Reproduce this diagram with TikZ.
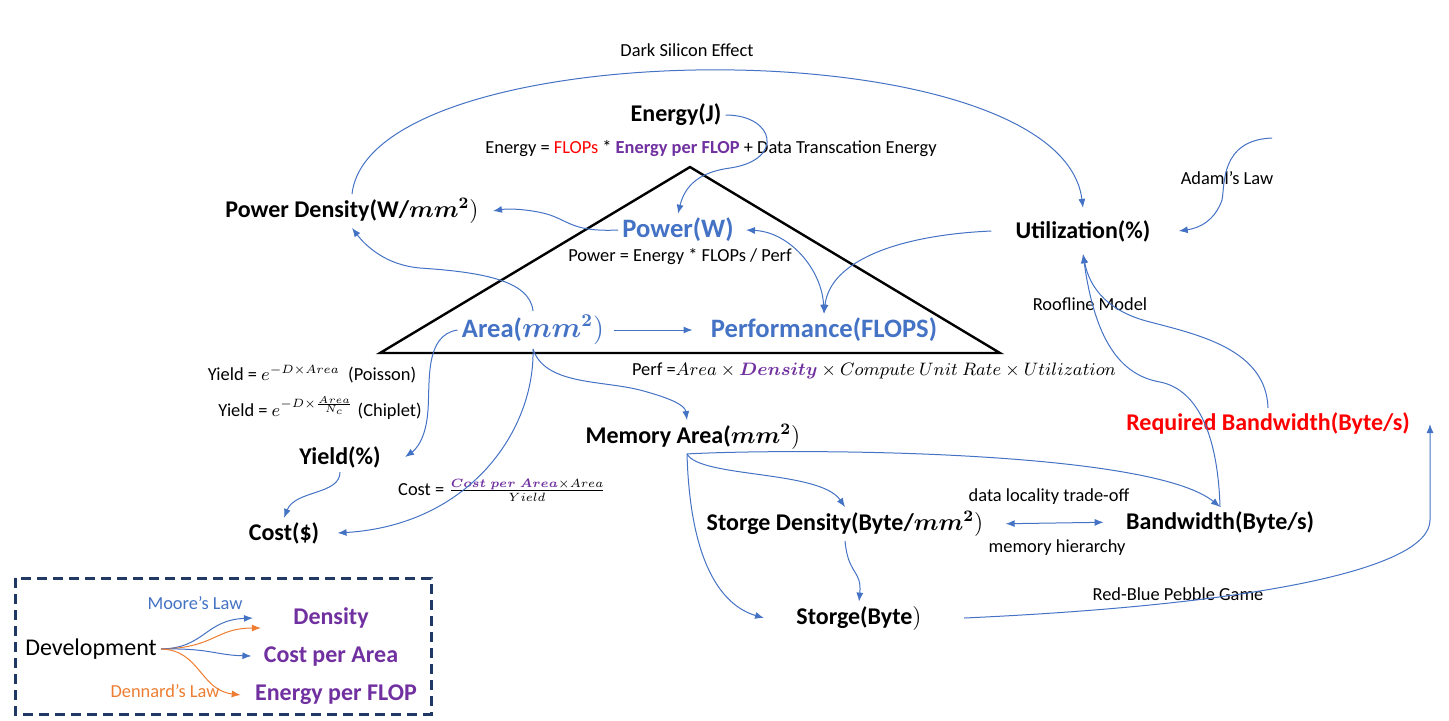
\documentclass[tikz,border=0pt]{standalone}
\usepackage{amsmath,bm}
\usepackage{fontspec}
\setmainfont{Carlito}
\usepackage{xcolor}
\usetikzlibrary{arrows.meta}
\definecolor{offblue}{HTML}{4472C4}
\definecolor{offpurple}{HTML}{7030A0}
\definecolor{offorange}{HTML}{ED7D31}
\definecolor{navy}{HTML}{203864}

\begin{document}
\begin{tikzpicture}[x=0.5pt, y=-0.5pt, >={Latex[length=4.5pt,width=3.5pt]},
	every node/.style={inner sep=2pt},
	small/.style={font=\fontsize{9.2}{11}\selectfont, inner sep=0.5pt},
	var/.style={font=\fontsize{12}{14}\selectfont\bfseries},
	key/.style={font=\fontsize{13.3}{16}\selectfont\bfseries, text=offblue},
	law/.style={font=\fontsize{12}{14}\selectfont\bfseries, text=offpurple},
	link/.style={->, offblue, line width=0.5pt}]
	\useasboundingbox (0,0) rectangle (1449,720);
	% Triangle
	\draw[line width=1.2pt] (380,353) -- (690,167) -- (1000,353) -- cycle;
	% Nodes
	\node[small] (dse) at (687,50) {Dark Silicon Effect};
	\node[var] (energy) at (676,115) {Energy(J)};
	\node[small] (efml) at (711,149) {Energy = \textcolor{red}{FLOPs} * \textcolor{offpurple}{\bfseries Energy per FLOP} + Data Transcation Energy};
	\node[key] (power) at (678,230) {Power(W)};
	\node[small] (pfml) at (680,257) {Power = Energy * FLOPs / Perf};
	\node[var] (pd) at (352,211) {Power Density(W/$\bm{mm^2})$};
	\node[key] (area) at (533,330) {Area($\bm{mm^2})$};
	\node[key] (perf) at (824,330) {Performance(FLOPS)};
	\node[small] (perffml) at (874,371) {Perf =$Area\times\textcolor{offpurple}{\bm{Density}}\times Compute\ Unit\ Rate\times Utilization$};
	\node[small] (yfml1) at (312,374) {Yield = $e^{-D\times Area}$\ \ (Poisson)};
	\node[small] (yfml2) at (320,408) {Yield = $e^{-D\times\frac{Area}{N_c}}$ (Chiplet)};
	\node[var] (yield) at (340,457) {Yield(\%)};
	\node[var] (cost) at (284,533) {Cost(\$)};
	\node[small] (cfml) at (502,490) {Cost = $\frac{\textcolor{offpurple}{\bm{Cost\ per\ Area}}\times Area}{Yield}$};
	\node[var] (mem) at (693,437) {Memory Area($\bm{mm^2})$};
	\node[var] (util) at (1083,231) {Utilization(\%)};
	\node[small] (amdahl) at (1227,178) {Adaml's Law};
	\node[small] (roof) at (1090,304) {Roofline Model};
	\node[var, text=red] (reqbw) at (1268,423) {Required Bandwidth(Byte/s)};
	\node[var] (sd) at (845,524) {Storge Density(Byte/$\bm{mm^2})$};
	\node[var] (bw) at (1220,522) {Bandwidth(Byte/s)};
	\node[small] (loc) at (1049,497) {data locality trade-off};
	\node[small] (hier) at (1057,548) {memory hierarchy};
	\node[var] (store) at (859,618) {Storge(Byte$)$};
	\node[small] (pebble) at (1178,594) {Red-Blue Pebble Game};
	\coordinate (amstart) at (1272,138);
	\coordinate (bwtip) at (1430,424);
	% Edges
	\draw[link] (pd.north) .. controls (370,30) and (1060,25) .. ([yshift=4pt]util.north);
	\draw[link] (energy.east) .. controls (775,115) and (785,160) .. (730,168) .. controls (700,172) and (685,185) .. (power.north);
	\draw[link] (power.west) .. controls (575,232) and (570,222) .. (550,215) .. controls (535,210) and (510,208) .. ([xshift=5pt]pd.east);
	\draw[link] (area.north) .. controls (530,280) and (480,272) .. (420,268) .. controls (385,265) and (365,245) .. (pd.south);
	\draw[link] ([xshift=-10pt]util.west) .. controls (900,235) and (830,260) .. (perf.north);
	\draw[link, <->] ([xshift=4pt]power.east) .. controls (790,232) and (822,270) .. (perf.north);
	\draw[link, shorten <=3pt, shorten >=7pt] (area.east) -- (perf.west);
	\draw[link] (area.west) .. controls (425,335) and (430,380) .. (428,410) .. controls (426,440) and (415,450) .. ([xshift=10pt]yield.east);
	\draw[link] (area.south) .. controls (535,430) and (470,525) .. ([xshift=7pt]cost.east);
	\draw[link] (area.south) .. controls (545,385) and (600,380) .. (640,390) .. controls (670,398) and (685,405) .. ([xshift=-3pt]mem.north);
	\draw[link] (yield.south) .. controls (340,495) and (295,490) .. (cost.north);
	\draw[link] ([xshift=-3pt]mem.south) .. controls (700,478) and (820,470) .. (sd.north);
	\draw[link] ([xshift=-3pt]mem.south) .. controls (690,560) and (720,605) .. ([xshift=-14pt]store.west);
	\draw[link] ([xshift=-3pt]mem.south) .. controls (800,448) and (1150,450) .. (bw.north);
	\draw[link] (sd.south) .. controls (848,575) and (862,570) .. (store.north);
	\draw[link, <->, shorten <=9pt, shorten >=9pt] (sd.east) -- (bw.west);
	\draw[link] ([xshift=19pt]store.east) .. controls (1250,605) and (1430,570) .. (1430,520) -- (bwtip);
	\draw[link] (reqbw.north) .. controls (1266,350) and (1200,335) .. (1150,322) .. controls (1110,312) and (1090,290) .. ([yshift=-4pt]util.south);
	\draw[link] (bw.north) .. controls (1218,440) and (1200,390) .. (1160,382) .. controls (1120,375) and (1095,340) .. ([yshift=-4pt]util.south);
	\draw[link] (amstart) .. controls (1220,140) and (1225,185) .. (1222,200) .. controls (1215,220) and (1200,228) .. ([xshift=12pt]util.east);

	% Legend
	\draw[navy, line width=1.5pt, dash pattern=on 5pt off 3pt] (15,578) rectangle (431,714);
	\node[font=\fontsize{12}{14}\selectfont] (dev) at (91,649) {Development};
	\node[small, text=offblue] (moore) at (195,603) {Moore's Law};
	\node[law] (dens) at (331,618) {Density};
	\node[law] (cpa) at (331,656) {Cost per Area};
	\node[law] (epf) at (336,695) {Energy per FLOP};
	\node[small, text=offorange] (dennard) at (165,691) {Dennard's Law};
	\draw[link] (dev.east) .. controls (205,648) and (205,620) .. ([xshift=-18pt]dens.west);
	\draw[link, offorange] (dev.east) .. controls (215,648) and (215,628) .. ([xshift=-14pt,yshift=-5pt]dens.west);
	\draw[link] (dev.east) .. controls (210,648) and (215,655) .. ([xshift=-4pt]cpa.west);
	\draw[link, offorange] (dev.east) .. controls (200,650) and (200,690) .. ([xshift=-5pt]epf.west);
\end{tikzpicture}
\end{document}
